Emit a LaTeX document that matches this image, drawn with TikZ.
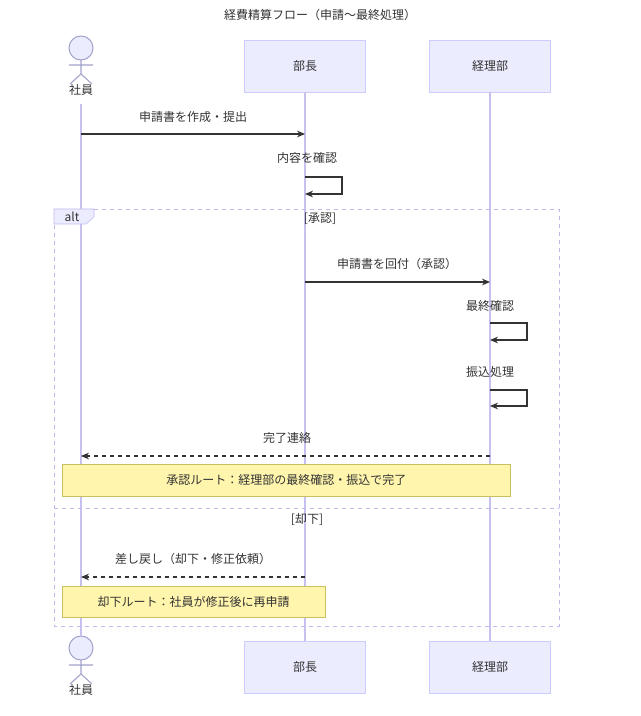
\documentclass[tikz,border=0pt]{standalone}
\usepackage{fontspec}
\setmainfont{Noto Sans CJK JP}
\usetikzlibrary{arrows.meta,positioning}
\definecolor{actfill}{HTML}{ECECFF}
\definecolor{actline}{HTML}{CCCCFF}
\definecolor{lifeln}{HTML}{C8C0EE}
\definecolor{notefill}{HTML}{FFF5AD}
\definecolor{noteline}{HTML}{C8C060}
\definecolor{altline}{HTML}{C0B8EE}
\definecolor{txt}{HTML}{333333}
\begin{document}
\begin{tikzpicture}[x=0.75pt,y=-0.75pt,>={Stealth[length=6pt,width=5pt]},
  every node/.style={font=\fontsize{9}{11}\selectfont,text=txt},
  actor/.style={draw=actline,fill=actfill,minimum width=91pt,minimum height=39pt,inner sep=0pt},
  note/.style={draw=noteline,fill=notefill,anchor=north west,inner sep=0pt},
  msg/.style={->,draw=txt,thick},
  reply/.style={msg,dashed},
  life/.style={draw=lifeln,line width=0.8pt},
  stick/.style={draw=actline!80!black,fill=actfill,line width=0.8pt}]
  \useasboundingbox (0,0) rectangle (640,716);
  \node (title) at (320,15) {経費精算フロー（申請〜最終処理）};

  % participants
  \node[actor] (bt) at (305,66) {部長};
  \node[actor] (kt) at (490,66) {経理部};
  \node[actor] (bb) at (305,667) {部長};
  \node[actor] (kb) at (490,667) {経理部};
  \node (st) at (81,90) {社員};
  \node (sb) at (81,690) {社員};
  \foreach \y in {48,648}{
    \draw[stick] (81,\y) circle (12);
    \draw[stick] (81,\y+12) -- (81,\y+26) (69,\y+17) -- (93,\y+17)
      (81,\y+26) -- (70,\y+36) (81,\y+26) -- (92,\y+36);
  }
  \coordinate (s1) at (81,104);  \coordinate (s2) at (81,636);
  \draw[life] (s1) -- (s2);
  \draw[life] (bt) -- (bb);
  \draw[life] (kt) -- (kb);

  % alt frame
  \draw[altline,dashed] (54,209) rectangle (559,626);
  \draw[altline,dashed] (54,508) -- (559,508);
  \draw[altline,fill=actfill] (54,209) -- (94,209) -- (94,217) -- (86,224) -- (54,224) -- cycle;
  \node (alt) at (72,217) {alt};
  \node (ok) at (320,219) {[承認]};
  \node (ng) at (307,519) {[却下]};

  % messages
  \node (m1) at (193,117) {申請書を作成・提出};
  \draw[msg] (81,134) -- (305,134);
  \node (m2) at (307,158) {内容を確認};
  \draw[msg] (305,177) -- (342,177) -- (342,194) -- (305,194);
  \node (m3) at (397,264) {申請書を回付（承認）};
  \draw[msg] (305,282) -- (490,282);
  \node (m4) at (490,306) {最終確認};
  \draw[msg] (490,323) -- (527,323) -- (527,340) -- (490,340);
  \node (m5) at (490,372) {振込処理};
  \draw[msg] (490,390) -- (527,390) -- (527,406) -- (490,406);
  \node (m6) at (287,438) {完了連絡};
  \draw[reply] (490,456) -- (81,456);
  \node[note,minimum width=336pt,minimum height=24pt] (n1) at (62,464) {};
  \node (n1t) at (n1.center) {承認ルート：経理部の最終確認・振込で完了};
  \node (m7) at (193,559) {差し戻し（却下・修正依頼）};
  \draw[reply] (305,577) -- (81,577);
  \node[note,minimum width=197pt,minimum height=23pt] (n2) at (62,586) {};
  \node (n2t) at (n2.center) {却下ルート：社員が修正後に再申請};
\end{tikzpicture}
\end{document}
